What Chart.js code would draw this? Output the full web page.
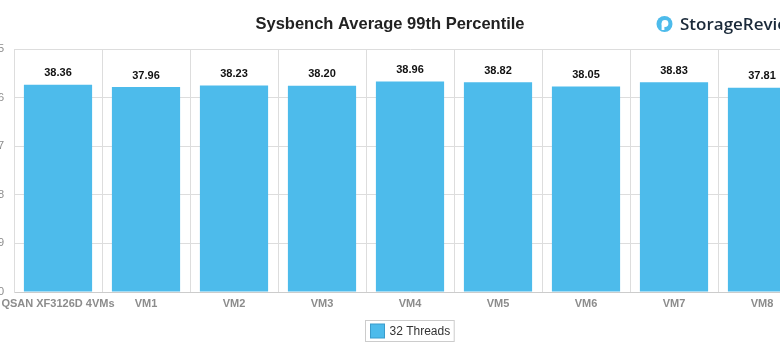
<!DOCTYPE html>
<html>
<head>
<meta charset="utf-8">
<script src="https://cdn.jsdelivr.net/npm/chart.js@4"></script>
<style>
  html, body { margin: 0; padding: 0; background: #fff; overflow: hidden; }
  #wrap { position: relative; width: 780px; height: 352px; overflow: hidden; }
  #chart { position: absolute; left: -30px; top: 0; }
</style>
</head>
<body>
<div id="wrap"><canvas id="chart" width="842" height="352"></canvas></div>
<script>
const categories = ['QSAN XF3126D 4VMs', 'VM1', 'VM2', 'VM3', 'VM4', 'VM5', 'VM6', 'VM7', 'VM8'];
const threads32 = [38.36, 37.96, 38.23, 38.20, 38.96, 38.82, 38.05, 38.83, 37.81];
const yTicks = [0, 9, 18, 27, 36, 45];
const barColor = '#4dbbeb';

// title, logo, value labels and the boxed legend
const decor = {
  id: 'decor',
  afterDatasetsDraw(chart) {
    const ctx = chart.ctx;
    const area = chart.chartArea;
    ctx.save();

    // title
    ctx.fillStyle = '#222';
    ctx.font = 'bold 16.5px "Liberation Sans", Arial, sans-serif';
    ctx.textAlign = 'center';
    ctx.textBaseline = 'middle';
    ctx.fillText('Sysbench Average 99th Percentile', chart.width / 2 - 1, 24);

    // logo
    ctx.fillStyle = '#4dbbeb';
    ctx.beginPath();
    ctx.arc(694.5, 24, 8, 0, Math.PI * 2);
    ctx.fill();
    ctx.fillStyle = '#fff';
    ctx.beginPath();
    ctx.arc(695, 23.5, 3.4, 0, Math.PI * 2);
    ctx.fill();
    ctx.fillRect(691.6, 23.5, 2.8, 6.5);
    ctx.fillStyle = '#1b2a3a';
    ctx.font = '600 17px "Open Sans", sans-serif';
    ctx.textAlign = 'left';
    ctx.fillText('StorageReview', 710, 25);

    // value labels
    const meta = chart.getDatasetMeta(0);
    ctx.fillStyle = '#111';
    ctx.font = 'bold 11px "Liberation Sans", Arial, sans-serif';
    ctx.textAlign = 'center';
    ctx.textBaseline = 'bottom';
    meta.data.forEach((bar, i) => {
      ctx.fillText(threads32[i].toFixed(2), bar.x, bar.y - 6);
    });

    // legend
    const label = chart.data.datasets[0].label;
    ctx.font = '12px "Liberation Sans", Arial, sans-serif';
    const tw = ctx.measureText(label).width;
    const boxW = 5 + 14 + 5 + tw + 4;
    const cx = (area.left + area.right) / 2 - 1;
    const x0 = Math.round(cx - boxW / 2) + 0.5;
    const y0 = 320.5;
    ctx.strokeStyle = '#cccccc';
    ctx.lineWidth = 1;
    ctx.strokeRect(x0, y0, boxW, 21);
    ctx.fillStyle = barColor;
    ctx.fillRect(x0 + 5, y0 + 3.5, 14, 14);
    ctx.strokeStyle = '#3a9ccc';
    ctx.strokeRect(x0 + 5, y0 + 3.5, 14, 14);
    ctx.fillStyle = '#333';
    ctx.textAlign = 'left';
    ctx.textBaseline = 'middle';
    ctx.fillText(label, x0 + 24, y0 + 11);

    ctx.restore();
  }
};

new Chart(document.getElementById('chart'), {
  type: 'bar',
  data: {
    labels: categories,
    datasets: [{
      label: '32 Threads',
      data: threads32,
      backgroundColor: barColor,
      borderWidth: 0,
      categoryPercentage: 1,
      barPercentage: 0.775,
    }]
  },
  options: {
    responsive: false,
    animation: false,
    layout: { padding: { top: 49, right: 6, bottom: 40, left: 0 } },
    plugins: {
      legend: { display: false },
      title: { display: false },
      tooltip: { enabled: false }
    },
    scales: {
      x: {
        grid: { color: '#dddddd', drawTicks: false, offset: true },
        border: { color: '#cccccc' },
        ticks: {
          color: '#8c8c8c',
          padding: 5,
          maxRotation: 0,
          autoSkip: false,
          font: { family: '"Liberation Sans", Arial, sans-serif', size: 11, weight: 'bold' }
        },
        afterFit(s) { s.height = 20; }
      },
      y: {
        min: 0,
        max: 45,
        afterBuildTicks(s) { s.ticks = yTicks.map(v => ({ value: v })); },
        grid: { color: '#dddddd', drawTicks: false },
        border: { color: '#dddddd' },
        ticks: {
          color: '#8c8c8c',
          padding: 10,
          font: { family: '"Liberation Sans", Arial, sans-serif', size: 11 }
        },
        afterFit(s) { s.width = 44; }
      }
    }
  },
  plugins: [decor]
});
</script>
</body>
</html>
